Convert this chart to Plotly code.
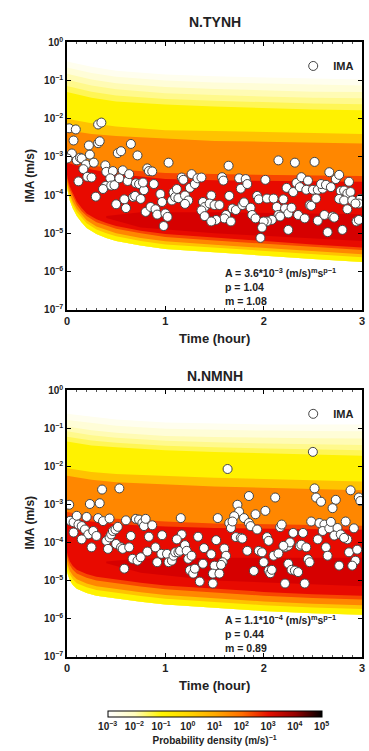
import plotly.graph_objects as go

# ---------------- scatter data: time (hour) and log10 IMA (m/s) ----------------
tynh_time = [0.023, 0.09, 0.067, 0.317, 0.35, 0.223, 0.317, 0.333, 0.05, 0.10, 0.133, 0.15, 0.233, 0.193,
             0.167, 0.207, 0.25, 0.273, 0.117, 0.005, 0.39, 0.40, 0.467, 0.44, 0.393, 0.367, 0.45, 0.483,
             0.517, 0.55, 0.567, 0.533, 0.617, 0.633, 0.65, 0.717, 0.293, 0.50, 0.583, 0.60, 0.673, 0.693,
             0.75, 0.70, 0.733, 0.783, 0.773, 0.817, 0.833, 0.867, 0.883, 0.80, 0.85, 0.90, 0.917, 0.95,
             0.967, 1.0, 1.023, 0.983, 1.033, 1.067, 1.083, 1.10, 1.133, 1.117, 1.167, 1.183, 1.20, 1.233,
             1.20, 1.25, 1.267, 1.30, 1.327, 1.367, 1.383, 1.40, 1.367, 1.40,
             1.643, 2.15, 2.317, 2.517, 1.577, 1.59, 1.75, 1.817, 1.767, 1.833, 2.017, 1.467, 1.45, 1.50,
             1.55, 1.65, 1.683, 1.717, 1.783, 1.80, 1.867, 1.883, 1.917, 1.617, 1.60, 1.517, 1.467, 1.667,
             1.933, 1.95, 2.033, 2.10, 2.133, 2.20, 2.217, 2.25, 2.283, 2.15, 2.167, 2.083, 2.033, 2.0,
             1.983, 1.967, 2.233, 2.30, 2.333, 2.383, 2.45, 2.367, 2.433, 2.50, 2.55, 2.60, 2.583, 2.633,
             2.683, 2.667, 2.733, 2.767, 2.867, 2.783, 2.817, 2.85, 2.883, 2.767, 2.817, 2.90, 2.983, 2.967,
             2.933, 2.85, 2.943, 2.967, 2.25, 2.35, 2.417, 2.467, 2.483, 2.55, 2.617, 2.70, 2.717, 2.65,
             2.80, 2.533]
tynh_log_ima = [-2.25, -2.28, -2.57, -2.15, -2.10, -2.70, -2.64, -2.59, -2.91, -3.09, -3.02, -3.04, -2.94, -3.20,
                -3.32, -3.52, -3.54, -3.15, -3.64, -3.04, -3.22, -3.39, -3.37, -3.56, -3.76, -3.84, -3.75, -3.74,
                -2.90, -2.85, -3.35, -3.56, -3.63, -3.45, -2.66, -2.96, -4.04, -4.24, -4.11, -4.34, -4.05, -4.02,
                -4.10, -3.69, -3.71, -3.87, -3.67, -3.30, -3.37, -3.38, -3.71, -4.44, -4.31, -4.37, -4.51, -3.97,
                -4.18, -4.48, -4.57, -4.81, -3.15, -4.14, -3.93, -4.05, -4.08, -3.84, -3.54, -3.60, -4.01, -4.14,
                -4.23, -3.81, -3.45, -3.71, -3.56, -3.54, -4.18, -4.31, -4.40, -4.55,
                -3.23, -3.09, -3.15, -3.13, -3.53, -3.62, -3.56, -3.58, -3.83, -3.71, -3.60, -4.01, -4.22, -4.26,
                -4.26, -4.02, -4.35, -4.39, -4.26, -4.19, -4.33, -4.52, -4.61, -4.52, -4.61, -4.65, -4.69, -4.69,
                -4.02, -4.11, -4.09, -4.09, -4.31, -4.11, -4.35, -4.48, -4.33, -4.52, -4.56, -4.65, -4.69, -4.69,
                -4.85, -5.12, -3.81, -3.92, -3.68, -3.53, -3.62, -3.79, -3.86, -3.86, -3.86, -3.83, -3.71, -3.73,
                -3.79, -3.40, -3.58, -3.47, -3.65, -3.89, -3.88, -3.96, -3.92, -4.10, -4.14, -4.14, -4.10, -4.22,
                -4.22, -4.37, -4.69, -4.65, -4.91, -4.52, -4.61, -4.26, -4.28, -4.67, -4.52, -4.56, -4.59, -4.97,
                -4.91, -4.09]

nmnh_time = [0.023, 0.357, 0.533, 0.233, 0.333, 0.033, 0.067, 0.10, 0.117, 0.15, 0.183, 0.20, 0.217, 0.267,
             0.30, 0.317, 0.367, 0.433, 0.067, 0.15, 0.25, 0.40, 0.417, 0.433, 0.45, 0.467, 0.493, 0.517,
             0.50, 0.55, 0.567, 0.60, 0.65, 0.633, 0.667, 0.717, 0.75, 0.70, 0.733, 0.767, 0.783, 0.80,
             0.867, 0.833, 0.817, 0.90, 0.917, 0.96, 0.967, 1.017, 1.033, 1.067, 1.083, 1.10, 1.133, 1.15,
             1.157, 1.167, 1.20, 1.217, 1.117, 1.233, 1.25, 1.267, 1.283, 1.30, 1.333, 1.35, 1.383, 1.393,
             0.583,
             1.633, 2.50, 2.517, 2.533, 2.583, 2.733, 2.70, 2.883, 2.967, 2.983, 1.85, 2.117, 1.733, 1.75,
             1.70, 1.65, 1.667, 1.683, 1.80, 1.85, 1.917, 2.017, 1.867, 1.933, 1.533, 1.717, 1.767, 1.783,
             2.033, 2.05, 2.167, 2.183, 2.30, 2.40, 2.483, 2.567, 2.617, 2.60, 2.667, 2.683, 2.75, 2.717,
             2.783, 2.833, 2.85, 2.917, 2.817, 1.517, 1.60, 1.617, 1.583, 1.50, 1.467, 1.483, 1.55, 1.483,
             1.567, 1.833, 1.95, 1.983, 2.0, 1.90, 2.05, 2.067, 2.083, 2.10, 2.15, 2.217, 2.25, 2.267,
             2.20, 2.25, 2.283, 2.317, 2.35, 2.217, 2.367, 2.383, 2.433, 2.417, 2.45, 2.467, 2.55, 2.633,
             2.65, 2.767, 2.867, 2.933, 2.90, 2.95]
nmnh_log_ima = [-3.01, -2.61, -2.58, -2.99, -2.97, -3.43, -3.47, -3.30, -3.53, -3.57, -3.66, -3.33, -3.79, -3.70,
                -3.83, -3.36, -3.44, -3.37, -3.74, -3.92, -4.13, -3.96, -4.17, -3.87, -3.79, -3.70, -3.66, -3.59,
                -4.04, -4.13, -4.17, -3.42, -3.83, -4.13, -4.43, -4.48, -4.39, -3.38, -3.40, -3.49, -3.57, -3.38,
                -3.55, -3.85, -4.24, -4.13, -4.52, -4.30, -3.81, -4.30, -4.52, -4.48, -4.35, -4.26, -4.26, -4.22,
                -3.36, -3.79, -4.07, -4.22, -3.92, -4.43, -4.73, -4.35, -4.82, -4.69, -3.85, -5.03, -4.56, -4.15,
                -4.69,
                -2.07, -1.62, -2.58, -2.82, -2.93, -2.88, -3.10, -2.63, -2.82, -2.91, -2.78, -2.82, -3.01, -3.19,
                -3.31, -3.49, -3.62, -3.45, -3.36, -3.49, -3.26, -3.17, -3.57, -3.66, -3.36, -3.86, -3.88, -3.90,
                -3.86, -3.96, -3.60, -3.53, -3.75, -3.75, -3.45, -3.49, -3.53, -3.70, -3.63, -3.46, -3.62, -3.82,
                -3.79, -3.45, -3.92, -3.63, -3.88, -3.94, -4.16, -4.35, -4.52, -4.61, -4.31, -4.82, -4.82, -5.08,
                -4.59, -4.22, -4.22, -4.26, -4.52, -4.75, -4.74, -4.81, -4.72, -4.35, -4.29, -4.13, -4.09, -4.00,
                -4.09, -4.56, -4.72, -4.74, -4.78, -5.08, -4.09, -4.06, -4.13, -5.08, -4.44, -4.52, -3.92, -4.13,
                -4.35, -4.61, -4.26, -4.48, -4.61, -4.19]

# ---------------- probability-density bands (log10 IMA edges) ----------------
band_names = ["pale0", "pale1", "pale2", "pale3", "pale4", "yellow", "lorange", "orange", "redorange", "red"]
up_t = [0, 0.25, 0.5, 1.0, 1.5, 2.0, 2.5, 3.0]
lo_t = [0, 0.01, 0.03, 0.06, 0.1, 0.15, 0.2, 0.3, 0.4, 0.5, 0.75, 1.0, 1.5, 2.0, 2.5, 3.0]
dr_t = [0.4, 0.75, 1.5, 3.0]

tynh_upper = [
    [-0.50, -0.64, -0.74, -0.84, -0.89, -0.92, -0.95, -0.97],
    [-0.66, -0.80, -0.90, -1.00, -1.05, -1.08, -1.11, -1.13],
    [-0.82, -0.97, -1.07, -1.17, -1.22, -1.26, -1.29, -1.30],
    [-0.98, -1.13, -1.23, -1.33, -1.38, -1.42, -1.45, -1.46],
    [-1.14, -1.29, -1.39, -1.48, -1.53, -1.57, -1.60, -1.62],
    [-1.30, -1.45, -1.55, -1.63, -1.68, -1.72, -1.76, -1.78],
    [-2.00, -2.12, -2.20, -2.30, -2.32, -2.35, -2.38, -2.40],
    [-2.30, -2.40, -2.45, -2.52, -2.58, -2.60, -2.62, -2.65],
    [-3.05, -3.22, -3.32, -3.42, -3.45, -3.47, -3.49, -3.50],
    [-3.15, -3.33, -3.45, -3.58, -3.61, -3.63, -3.64, -3.65],
]
tynh_white_edge = [-3.80, -3.95, -4.15, -4.35, -4.55, -4.72, -4.86, -5.02, -5.12, -5.20, -5.32, -5.41, -5.50, -5.58, -5.67, -5.75]
tynh_lower = [
    tynh_white_edge, tynh_white_edge, tynh_white_edge, tynh_white_edge, tynh_white_edge, tynh_white_edge,
    [-3.72, -3.86, -4.05, -4.25, -4.44, -4.60, -4.74, -4.90, -5.00, -5.08, -5.20, -5.29, -5.38, -5.46, -5.55, -5.63],
    [-3.65, -3.78, -3.97, -4.17, -4.36, -4.52, -4.66, -4.82, -4.92, -5.00, -5.12, -5.21, -5.30, -5.38, -5.47, -5.55],
    [-3.55, -3.67, -3.86, -4.05, -4.25, -4.42, -4.55, -4.71, -4.80, -4.88, -5.00, -5.10, -5.19, -5.27, -5.36, -5.44],
    [-3.45, -3.58, -3.78, -3.97, -4.17, -4.34, -4.48, -4.63, -4.73, -4.81, -4.93, -5.02, -5.12, -5.20, -5.29, -5.37],
]
tynh_dark_hi = [-4.55, -4.45, -4.45, -4.50]
tynh_dark_lo = [-4.60, -4.85, -5.00, -5.20]

nmnh_upper = [
    [-0.62, -0.70, -0.77, -0.85, -0.88, -0.90, -0.90, -0.90],
    [-0.78, -0.86, -0.93, -1.01, -1.04, -1.06, -1.07, -1.08],
    [-0.95, -1.05, -1.12, -1.20, -1.23, -1.25, -1.26, -1.27],
    [-1.08, -1.18, -1.25, -1.33, -1.37, -1.40, -1.42, -1.44],
    [-1.22, -1.32, -1.38, -1.46, -1.50, -1.53, -1.55, -1.58],
    [-1.35, -1.45, -1.50, -1.58, -1.62, -1.65, -1.68, -1.72],
    [-2.05, -2.15, -2.20, -2.25, -2.30, -2.33, -2.36, -2.40],
    [-2.25, -2.35, -2.42, -2.48, -2.53, -2.56, -2.60, -2.63],
    [-3.20, -3.30, -3.38, -3.45, -3.50, -3.52, -3.55, -3.56],
    [-3.35, -3.45, -3.52, -3.58, -3.62, -3.64, -3.66, -3.67],
]
nmnh_white_edge = [-4.75, -4.85, -5.00, -5.12, -5.22, -5.28, -5.33, -5.40, -5.44, -5.47, -5.56, -5.63, -5.72, -5.80, -5.86, -5.90]
nmnh_lower = [
    nmnh_white_edge, nmnh_white_edge, nmnh_white_edge, nmnh_white_edge, nmnh_white_edge, nmnh_white_edge,
    [-4.60, -4.70, -4.85, -4.97, -5.07, -5.13, -5.18, -5.25, -5.29, -5.32, -5.41, -5.48, -5.57, -5.65, -5.71, -5.75],
    [-4.50, -4.60, -4.75, -4.87, -4.97, -5.03, -5.08, -5.15, -5.19, -5.22, -5.31, -5.38, -5.47, -5.55, -5.61, -5.65],
    [-4.35, -4.45, -4.60, -4.72, -4.82, -4.88, -4.93, -5.00, -5.04, -5.07, -5.16, -5.23, -5.32, -5.40, -5.46, -5.50],
    [-4.25, -4.35, -4.50, -4.62, -4.72, -4.78, -4.83, -4.90, -4.94, -4.97, -5.06, -5.13, -5.22, -5.30, -5.36, -5.40],
]
nmnh_dark_hi = [-4.50, -4.42, -4.40, -4.40]
nmnh_dark_lo = [-4.55, -4.80, -5.00, -5.15]

# fitted-parameter text
tynh_params = ["3.6", "−3", "1.04", "1.08"]
nmnh_params = ["1.1", "−4", "0.44", "0.89"]

# colour bar
cbar_exponents = [-3, -2, -1, 0, 1, 2, 3, 4, 5]
y_exponents = [0, -1, -2, -3, -4, -5, -6, -7]
x_ticks = [0, 1, 2, 3]

# ---------------- styles ----------------
band_colors = ["rgb(255,254,238)", "rgb(255,253,215)", "rgb(255,251,180)", "rgb(255,249,140)",
               "rgb(255,246,85)", "rgb(255,242,0)",
               "rgb(255,195,0)", "rgb(255,135,0)", "rgb(248,70,0)", "rgb(232,10,0)"]
dark_color = "rgb(214,0,0)"
FONT = "Liberation Sans, Arial, sans-serif"

fig = go.Figure()


def add_panel(upper, lower, dark_hi, dark_lo, times, logs, xa, ya, legend):
    for i, name in enumerate(band_names):
        xs = list(up_t) + list(reversed(lo_t))
        ys = [10 ** v for v in upper[i]] + [10 ** v for v in reversed(lower[i])]
        fig.add_trace(go.Scatter(x=xs, y=ys, fill="toself", mode="lines", line=dict(width=0),
                                 fillcolor=band_colors[i], hoverinfo="skip", showlegend=False,
                                 xaxis=xa, yaxis=ya))
    xs = list(dr_t) + list(reversed(dr_t))
    ys = [10 ** v for v in dark_hi] + [10 ** v for v in reversed(dark_lo)]
    fig.add_trace(go.Scatter(x=xs, y=ys, fill="toself", mode="lines", line=dict(width=0),
                             fillcolor=dark_color, hoverinfo="skip", showlegend=False,
                             xaxis=xa, yaxis=ya))
    fig.add_trace(go.Scatter(x=times, y=[10 ** v for v in logs], mode="markers", name="IMA",
                             marker=dict(size=9, color="white", line=dict(color="#444", width=1)),
                             xaxis=xa, yaxis=ya, legend=legend, showlegend=True))


add_panel(tynh_upper, tynh_lower, tynh_dark_hi, tynh_dark_lo, tynh_time, tynh_log_ima, "x", "y", "legend")
add_panel(nmnh_upper, nmnh_lower, nmnh_dark_hi, nmnh_dark_lo, nmnh_time, nmnh_log_ima, "x2", "y2", "legend2")

# colour bar carrier (point lies outside the visible x range)
cscale = [[0.0, "rgb(255,255,255)"], [0.125, "rgb(255,252,190)"], [0.25, "rgb(255,245,0)"],
          [0.375, "rgb(255,215,0)"], [0.5, "rgb(255,170,0)"], [0.625, "rgb(255,110,0)"],
          [0.75, "rgb(228,15,0)"], [0.875, "rgb(150,0,0)"], [1.0, "rgb(0,0,0)"]]
fig.add_trace(go.Scatter(x=[-5], y=[1e-3], mode="markers", showlegend=False, hoverinfo="skip",
                         marker=dict(size=1, color=[0], colorscale=cscale, cmin=-3, cmax=5, showscale=True,
                                     colorbar=dict(orientation="h", x=0.583, xanchor="center",
                                                   y=1 - 716 / 751, yanchor="top", len=0.59, lenmode="fraction",
                                                   thickness=6, outlinewidth=1, outlinecolor="black",
                                                   xpad=0, ypad=0, ticks="",
                                                   tickvals=cbar_exponents,
                                                   ticktext=["10<sup>%s</sup>" % str(e).replace("-", "−") for e in cbar_exponents],
                                                   tickfont=dict(family=FONT, size=10, color="#222", weight="bold"),
                                                   title=dict(text="Probability density (m/s)<sup>−1</sup>", side="bottom",
                                                              font=dict(family=FONT, size=10, color="#222", weight="bold")))),
                         xaxis="x", yaxis="y"))

W, H = 369, 751
xdom = [65 / W, 365 / W]
top_dom = [1 - 308 / H, 1 - 36 / H]
bot_dom = [1 - 661 / H, 1 - 390 / H]

tickfont = dict(family=FONT, size=10, color="#222", weight="bold")
yticktext = ["10<sup>%s</sup>" % str(e).replace("-", "−") for e in y_exponents]
common_x = dict(range=[0, 3], showline=True, linecolor="black", linewidth=1.5, mirror="ticks",
                ticks="inside", ticklen=4, tickcolor="black", tickvals=x_ticks,
                ticktext=[str(v) for v in x_ticks], tickfont=dict(family=FONT, size=11, color="#222", weight="bold"),
                minor=dict(ticks="inside", ticklen=2, dtick=0.1, tickcolor="#555"),
                showgrid=False, zeroline=False, domain=xdom)
common_y = dict(type="log", range=[-7, 0], showline=True, linecolor="black", linewidth=1.5, mirror="ticks",
                ticks="inside", ticklen=4, tickcolor="black",
                tickvals=[10 ** e for e in y_exponents], ticktext=yticktext, tickfont=tickfont,
                showgrid=False, zeroline=False)

fig.update_layout(
    width=W, height=H, margin=dict(l=0, r=0, t=0, b=0),
    paper_bgcolor="white", plot_bgcolor="white",
    xaxis=dict(common_x, anchor="y"),
    yaxis=dict(common_y, domain=top_dom, anchor="x"),
    xaxis2=dict(common_x, anchor="y2"),
    yaxis2=dict(common_y, domain=bot_dom, anchor="x2"),
    legend=dict(x=295 / W, y=1 - 60 / H, xanchor="left", yanchor="middle", bgcolor="rgba(0,0,0,0)",
                font=dict(family=FONT, size=11, color="#222", weight="bold"), itemwidth=30, tracegroupgap=0),
    legend2=dict(x=295 / W, y=1 - 414 / H, xanchor="left", yanchor="middle", bgcolor="rgba(0,0,0,0)",
                 font=dict(family=FONT, size=11, color="#222", weight="bold"), itemwidth=30, tracegroupgap=0),
    showlegend=True,
)

ann = []
for title, y_title, y_axis_mid, y_xlab, y_par, pars in [
        ("N.TYNH", 15, 172, 337, 262, tynh_params),
        ("N.NMNH", 375, 525, 690, 615, nmnh_params)]:
    ann.append(dict(text="<b>%s</b>" % title, x=215 / W, y=1 - y_title / H, xref="paper", yref="paper",
                    showarrow=False, font=dict(family=FONT, size=14, color="#222"), xanchor="center", yanchor="middle"))
    ann.append(dict(text="<b>IMA (m/s)</b>", x=27 / W, y=1 - y_axis_mid / H, xref="paper", yref="paper",
                    textangle=-90, showarrow=False, font=dict(family=FONT, size=12, color="#222"),
                    xanchor="center", yanchor="middle"))
    ann.append(dict(text="<b>Time (hour)</b>", x=215 / W, y=1 - y_xlab / H, xref="paper", yref="paper",
                    showarrow=False, font=dict(family=FONT, size=13, color="#222"), xanchor="center", yanchor="middle"))
    txt = ("<b>A = %s*10<sup>%s</sup> (m/s)<sup>m</sup>s<sup>p−1</sup></b><br><b>p = %s</b><br><b>m = %s</b>"
           % (pars[0], pars[1], pars[2], pars[3]))
    ann.append(dict(text=txt, x=224 / W, y=1 - y_par / H, xref="paper", yref="paper", showarrow=False,
                    align="left", xanchor="left", yanchor="top",
                    font=dict(family=FONT, size=10.5, color="#222")))
fig.update_layout(annotations=ann)

fig.write_html("out.html", config={"displayModeBar": False},
               post_script="document.body.style.margin='0';document.body.style.overflow='hidden';")
